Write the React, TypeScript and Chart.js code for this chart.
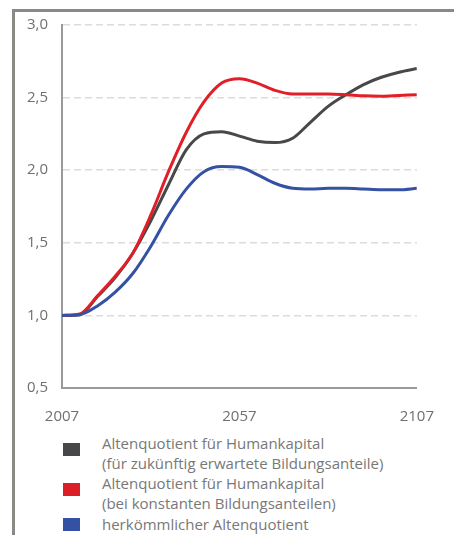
import React, { useEffect, useRef } from "react";
import { Chart, registerables } from "chart.js";

Chart.register(...registerables);

const years = [2007, 2012, 2017, 2022, 2027, 2032, 2037, 2042, 2047, 2052, 2057, 2062, 2067, 2072, 2077, 2082, 2087, 2092, 2097, 2102, 2107];
const futureEdu = [1.0, 1.005, 1.13, 1.26, 1.43, 1.65, 1.9, 2.14, 2.25, 2.265, 2.235, 2.2, 2.19, 2.22, 2.33, 2.44, 2.52, 2.59, 2.64, 2.675, 2.7];
const constEdu = [1.0, 1.01, 1.135, 1.27, 1.43, 1.69, 1.99, 2.26, 2.47, 2.6, 2.63, 2.6, 2.55, 2.525, 2.525, 2.525, 2.52, 2.512, 2.51, 2.515, 2.52];
const conventional = [1.0, 1.005, 1.065, 1.16, 1.29, 1.475, 1.69, 1.87, 1.99, 2.025, 2.02, 1.97, 1.91, 1.875, 1.87, 1.875, 1.875, 1.87, 1.865, 1.865, 1.875];
const xTicks = [2007, 2057, 2107];
const yMin = 0.5;
const yMax = 3.0;
const yStep = 0.5;

const legendItems = [
  { color: "#47474a", lines: ["Altenquotient für Humankapital", "(für zukünftig erwartete Bildungsanteile)"] },
  { color: "#dc1f26", lines: ["Altenquotient für Humankapital", "(bei konstanten Bildungsanteilen)"] },
  { color: "#3451a3", lines: ["herkömmlicher Altenquotient"] },
];

const pts = (arr: number[]) => arr.map((v, i) => ({ x: years[i], y: v }));

export default function App() {
  const ref = useRef<HTMLCanvasElement | null>(null);
  useEffect(() => {
    if (!ref.current) return;
    const font = { family: "'Open Sans', sans-serif", size: 15 };
    const chart = new Chart(ref.current, {
      type: "line",
      data: {
        datasets: [
          { label: "herkömmlicher Altenquotient", data: pts(conventional), borderColor: "#3451a3" },
          { label: "Altenquotient für Humankapital (bei konstanten Bildungsanteilen)", data: pts(constEdu), borderColor: "#e01f28" },
          { label: "Altenquotient für Humankapital (für zukünftig erwartete Bildungsanteile)", data: pts(futureEdu), borderColor: "#48484a" },
        ].map((d) => ({ ...d, borderWidth: 3, pointRadius: 0, cubicInterpolationMode: "monotone" as const, fill: false })),
      },
      options: {
        animation: false,
        responsive: false,
        maintainAspectRatio: false,
        layout: { padding: { top: 25, right: 28, left: 0, bottom: 0 } },
        plugins: { legend: { display: false }, tooltip: { enabled: false } },
        scales: {
          x: {
            type: "linear",
            min: years[0],
            max: years[years.length - 1],
            afterBuildTicks: (s: any) => { s.ticks = xTicks.map((v) => ({ value: v })); },
            afterFit: (s: any) => { s.height = 42; },
            grid: { display: false, drawTicks: false },
            border: { display: true, color: "#9a9a9a", width: 2 },
            ticks: { color: "#6f6f6f", font, padding: 20, maxRotation: 0, callback: (v: any) => String(v) },
          },
          y: {
            min: yMin,
            max: yMax,
            afterFit: (s: any) => { s.width = 62; },
            grid: { color: "#dcdcdc", lineWidth: 1.5, drawTicks: false },
            border: { display: true, color: "#9a9a9a", width: 2, dash: [7, 4] },
            ticks: { stepSize: yStep, color: "#6f6f6f", font, padding: 14, callback: (v: any) => Number(v).toFixed(1).replace(".", ",") },
          },
        },
      },
    });
    return () => chart.destroy();
  }, []);

  return (
    <div style={{ position: "absolute", left: 0, top: 0, width: 454, height: 535, overflow: "hidden", background: "#fff" }}>
      <div style={{ position: "absolute", left: 12, top: 9, width: 454, height: 540, borderLeft: "3px solid #8a8a84", borderTop: "3px solid #8a8a84" }} />
      <canvas ref={ref} width={454} height={430} style={{ position: "absolute", left: 0, top: 0, width: 454, height: 430 }} />
      {legendItems.map((it, i) => {
        const tops = [433, 473, 514];
        return (
          <div key={i} style={{ position: "absolute", left: 0, top: tops[i], width: 454 }}>
            <div style={{ position: "absolute", left: 63, top: it.lines.length > 1 ? 10 : 4, width: 17, height: 13, background: it.color }} />
            {it.lines.map((l, j) => (
              <div key={j} style={{ position: "absolute", left: 102, top: j * 20, whiteSpace: "nowrap", font: "15px 'Open Sans', sans-serif", color: "#787878", lineHeight: "20px" }}>{l}</div>
            ))}
          </div>
        );
      })}
    </div>
  );
}
